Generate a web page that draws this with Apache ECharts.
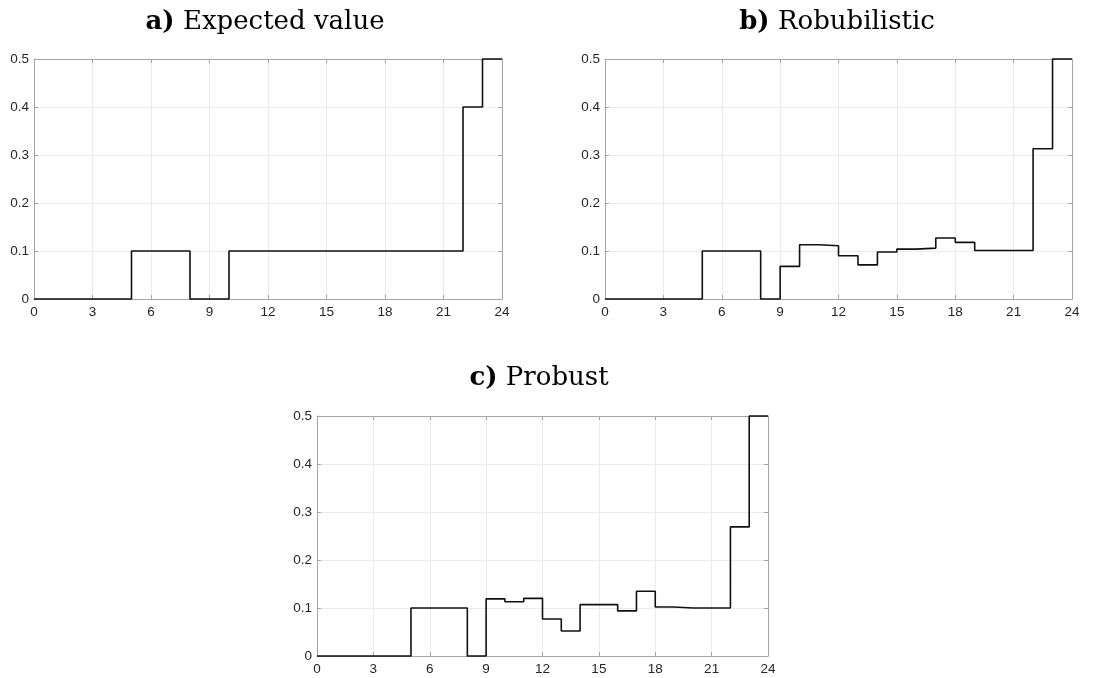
<!DOCTYPE html>
<html>
<head>
<meta charset="utf-8">
<title>Step profiles</title>
<script src="https://cdn.jsdelivr.net/npm/echarts@6/dist/echarts.min.js"></script>
<style>
  html, body { margin: 0; padding: 0; background: #fff; }
  #chart { width: 1101px; height: 678px; }
</style>
</head>
<body>
<div id="chart"></div>
<script>
// Hourly values, one per hour 0..23 (each holds until the next hour)
const hours = [0,1,2,3,4,5,6,7,8,9,10,11,12,13,14,15,16,17,18,19,20,21,22,23];
const expectedValue = [0,0,0,0,0,0.1,0.1,0.1,0,0,0.1,0.1,0.1,0.1,0.1,0.1,0.1,0.1,0.1,0.1,0.1,0.1,0.4,0.5];
const robubilistic  = [0,0,0,0,0,0.1,0.1,0.1,0,0.068,0.113,0.111,0.090,0.071,0.098,0.104,0.106,0.127,0.118,0.101,0.101,0.101,0.313,0.5];
const probust       = [0,0,0,0,0,0.1,0.1,0.1,0,0.119,0.113,0.120,0.077,0.052,0.107,0.107,0.094,0.135,0.102,0.100,0.100,0.100,0.269,0.5];
const xTicks = [0,3,6,9,12,15,18,21,24];
const yTicks = [0,0.1,0.2,0.3,0.4,0.5];
const panelTitles = [['a)', 'Expected value'], ['b)', 'Robubilistic'], ['c)', 'Probust']];

const chart = echarts.init(document.getElementById('chart'));

const grids = [
  { left: 34, top: 59, width: 468, height: 240 },
  { left: 605, top: 59, width: 467, height: 240 },
  { left: 317, top: 416, width: 451, height: 240 }
];
const titleCenters = [[260, 4], [832, 4], [534, 360]];
const panels = [expectedValue, robubilistic, probust];

const frameColor = '#a6a6a6';
const gridColor = '#ebebeb';
const labelColor = '#262626';
const labelFont = 'Liberation Sans, Arial, sans-serif';
const labelSize = 13.5;

function stairs(vals) {
  const pts = hours.map((h, i) => [h, vals[i]]);
  pts.push([hours[hours.length - 1] + 1, vals[vals.length - 1]]);
  return pts;
}

const xAxes = [], yAxes = [], series = [], titles = [];
grids.forEach((g, i) => {
  // bottom axis with labels and grid lines
  xAxes.push({
    type: 'value', gridIndex: i, position: 'bottom',
    min: xTicks[0], max: xTicks[xTicks.length - 1], interval: 3,
    axisLine: { show: true, lineStyle: { color: frameColor, width: 1 } },
    axisTick: { show: true, inside: true, length: 4, lineStyle: { color: frameColor } },
    splitLine: { show: true, lineStyle: { color: gridColor, width: 1 } },
    axisLabel: { color: labelColor, fontSize: labelSize, fontFamily: labelFont, margin: 6 }
  });
  // top frame edge
  xAxes.push({
    type: 'value', gridIndex: i, position: 'top',
    min: xTicks[0], max: xTicks[xTicks.length - 1], interval: 3,
    axisLine: { show: true, onZero: false, lineStyle: { color: frameColor, width: 1 } },
    axisTick: { show: true, inside: true, length: 4, lineStyle: { color: frameColor } },
    splitLine: { show: false }, axisLabel: { show: false }
  });
  yAxes.push({
    type: 'value', gridIndex: i, position: 'left',
    min: yTicks[0], max: yTicks[yTicks.length - 1], interval: 0.1,
    axisLine: { show: true, onZero: false, lineStyle: { color: frameColor, width: 1 } },
    axisTick: { show: true, inside: true, length: 4, lineStyle: { color: frameColor } },
    splitLine: { show: true, lineStyle: { color: gridColor, width: 1 } },
    axisLabel: {
      color: labelColor, fontSize: labelSize, fontFamily: labelFont, margin: 5,
      formatter: v => (Math.abs(v) < 1e-9 ? '0' : v.toFixed(1))
    }
  });
  // right frame edge
  yAxes.push({
    type: 'value', gridIndex: i, position: 'right',
    min: yTicks[0], max: yTicks[yTicks.length - 1], interval: 0.1,
    axisLine: { show: true, onZero: false, lineStyle: { color: frameColor, width: 1 } },
    axisTick: { show: true, inside: true, length: 4, lineStyle: { color: frameColor } },
    splitLine: { show: false }, axisLabel: { show: false }
  });
  series.push({
    type: 'line', step: 'end', xAxisIndex: i * 2, yAxisIndex: i * 2,
    data: stairs(panels[i]), symbol: 'none', silent: true, clip: false,
    lineStyle: { color: '#111', width: 1.6 }
  });
  titles.push({
    text: '{b|' + panelTitles[i][0] + '} ' + panelTitles[i][1],
    left: titleCenters[i][0], top: titleCenters[i][1], textAlign: 'center',
    textStyle: {
      fontFamily: 'DejaVu Serif, serif', fontSize: 26, fontWeight: 'normal', color: '#000',
      rich: { b: { fontFamily: 'DejaVu Serif, serif', fontSize: 26, fontWeight: 'bold', color: '#000' } }
    }
  });
});

chart.setOption({
  animation: false,
  backgroundColor: '#fff',
  title: titles,
  grid: grids,
  xAxis: xAxes,
  yAxis: yAxes,
  series: series
});
</script>
</body>
</html>
